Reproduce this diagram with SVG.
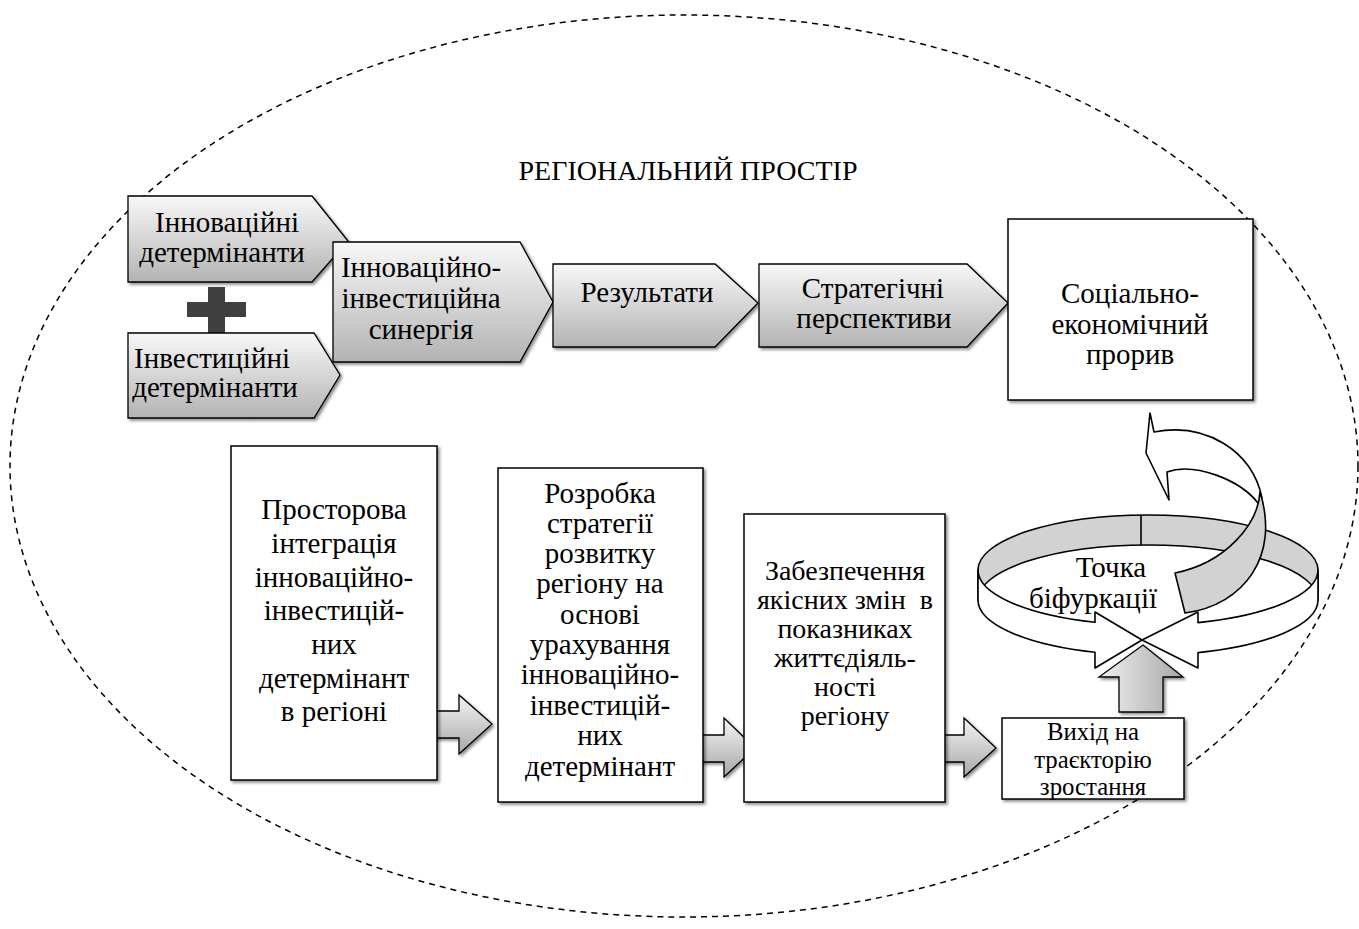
<svg xmlns="http://www.w3.org/2000/svg" width="1359" height="929" viewBox="0 0 1359 929">
<style>
.t{font-family:"Liberation Serif","Times New Roman",serif;font-size:29px;fill:#000;text-anchor:middle}
.s28{font-size:28px}
.s27{font-size:24.8px}
.chev{fill:url(#gChev);stroke:#000;stroke-width:1.3;filter:url(#sh)}
.box{fill:#fff;stroke:#000;stroke-width:1.5;filter:url(#sh)}
.blk{fill:url(#gArr);stroke:#000;stroke-width:1.3;filter:url(#sh)}
.ring{stroke:#000;stroke-width:1.6;stroke-linejoin:round}
</style>
<defs>
<linearGradient id="gChev" x1="0" y1="0" x2="0" y2="1"><stop offset="0" stop-color="#f8f8f8"/><stop offset="1" stop-color="#b3b3b3"/></linearGradient>
<linearGradient id="gArr" x1="0" y1="0" x2="0" y2="1"><stop offset="0" stop-color="#f4f4f4"/><stop offset="1" stop-color="#a8a8a8"/></linearGradient>
<linearGradient id="gUp" x1="0" y1="0" x2="1" y2="0"><stop offset="0" stop-color="#f0f0f0"/><stop offset="1" stop-color="#a8a8a8"/></linearGradient>
<filter id="sh" x="-10%" y="-10%" width="130%" height="130%"><feDropShadow dx="2" dy="2" stdDeviation="1.4" flood-color="#000" flood-opacity="0.45"/></filter>
</defs>
<rect width="1359" height="929" fill="#fff"/>
<g id="region">
<ellipse cx="684" cy="466" rx="674" ry="451" fill="none" stroke="#000" stroke-width="1.5" stroke-dasharray="6 5"/>
<text class="t s28" x="688" y="180">РЕГІОНАЛЬНИЙ ПРОСТІР</text>
</g>
<g id="connectors">
<g id="plus" fill="#404040"><rect x="208" y="287" width="17" height="46"/><rect x="187" y="302" width="59" height="15"/></g>
<polygon class="blk" points="425,711 459,711 459,695 492,724 459,754 459,738 425,738"/>
<polygon class="blk" points="690,735 724,735 724,718 755,748 724,777 724,762 690,762"/>
<polygon class="blk" points="931,735 964,735 964,718 996,748 964,777 964,762 931,762"/>
</g>
<g id="n-innov">
<polygon class="chev" points="128,196 312,196 348,241 312,282 128,282"/>
<text class="t" x="227" y="232">Інноваційні</text><text class="t" x="222" y="262">детермінанти</text>
</g>
<g id="n-invest">
<polygon class="chev" points="128,333 314,333 340,375 314,418 128,418"/>
<text class="t" x="212" y="368">Інвестиційні</text><text class="t" x="215" y="397">детермінанти</text>
</g>
<g id="n-synergy">
<polygon class="chev" points="333,242 520,242 553,302 520,362 333,362"/>
<text class="t" x="421" y="277">Інноваційно-</text><text class="t" x="421" y="308">інвестиційна</text><text class="t" x="421" y="339">синергія</text>
</g>
<g id="n-results">
<polygon class="chev" points="553,264 715,264 758,303 715,347 553,347"/>
<text class="t" x="647" y="302">Результати</text>
</g>
<g id="n-strategic">
<polygon class="chev" points="759,264 967,264 1008,303 967,347 759,347"/>
<text class="t" x="873" y="298">Стратегічні</text><text class="t" x="874" y="328">перспективи</text>
</g>
<g id="n-breakthrough">
<rect class="box" x="1008" y="219" width="245" height="181"/>
<text class="t" x="1130" y="303">Соціально-</text><text class="t" x="1130" y="334">економічний</text><text class="t" x="1130" y="364">прорив</text>
</g>
<g id="n-spatial">
<rect class="box" x="231" y="446" width="206" height="334"/>
<text class="t" x="334" y="519">Просторова</text><text class="t" x="334" y="553">інтеграція</text><text class="t" x="334" y="587">інноваційно-</text><text class="t" x="334" y="620">інвестицій-</text><text class="t" x="334" y="654">них</text><text class="t" x="334" y="688">детермінант</text><text class="t" x="334" y="721">в регіоні</text>
</g>
<g id="n-strategy">
<rect class="box" x="498" y="468" width="205" height="334"/>
<text class="t" x="600" y="503">Розробка</text><text class="t" x="600" y="533">стратегії</text><text class="t" x="600" y="563">розвитку</text><text class="t" x="600" y="593">регіону на</text><text class="t" x="600" y="624">основі</text><text class="t" x="600" y="654">урахування</text><text class="t" x="600" y="684">інноваційно-</text><text class="t" x="600" y="715">інвестицій-</text><text class="t" x="600" y="745">них</text><text class="t" x="600" y="776">детермінант</text>
</g>
<g id="n-quality">
<rect class="box" x="744" y="514" width="201" height="288"/>
<text class="t s28" x="845" y="580">Забезпечення</text><text class="t s28" x="845" y="609" style="white-space:pre">якісних змін  в</text><text class="t s28" x="845" y="638">показниках</text><text class="t s28" x="845" y="667">життєдіяль-</text><text class="t s28" x="845" y="696">ності</text><text class="t s28" x="845" y="725">регіону</text>
</g>
<g id="n-exit">
<rect class="box" x="1002" y="718" width="182" height="81"/>
<text class="t s27" x="1093" y="740">Вихід на</text><text class="t s27" x="1093" y="767.5">траєкторію</text><text class="t s27" x="1093" y="795">зростання</text>
</g>
<g id="n-bifurcation">
<path class="ring" fill="#d2d2d2" d="M978,570 A170,55 0 0 1 1318,570 L1318,600 A170,55 0 0 0 978,600 Z"/>
<line class="ring" x1="1141" y1="515" x2="1141" y2="545"/>
<path class="ring" fill="#fff" d="M978,570 A170,55 0 0 0 1095,622.3 L1095,612 L1142,640 L1095,668 L1095,652.3 A170,55 0 0 1 978,600 Z"/>
<path class="ring" fill="#fff" d="M1318,570 A170,55 0 0 1 1198,622.6 L1198,612 L1142,640 L1198,668 L1198,652.6 A170,55 0 0 0 1318,600 Z"/>
<path class="ring" fill="#fff" d="M1150,413 L1154,432 C1205,422 1252,450 1262,498 L1258,503 C1240,480 1195,462 1167,472 L1169,500 L1146,453 Z"/>
<path class="ring" fill="#d2d2d2" d="M1260,492 C1258,525 1225,563 1175,573 L1185,613 C1245,605 1280,555 1260,492 Z"/>
<text class="t" x="1111" y="577">Точка</text><text class="t" x="1093" y="608">біфуркації</text>
<polygon fill="url(#gUp)" stroke="#000" stroke-width="1.3" filter="url(#sh)" points="1119,712 1119,677 1099,677 1143,645 1183,677 1163,677 1163,712"/>
</g>
</svg>
